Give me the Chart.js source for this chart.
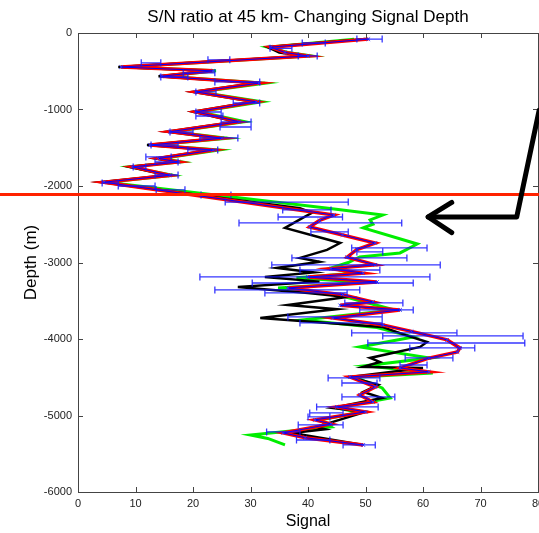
<!DOCTYPE html>
<html lang="en">
<head>
<meta charset="UTF-8">
<title>S/N ratio at 45 km- Changing Signal Depth</title>
<script src="https://cdn.jsdelivr.net/npm/chart.js"></script>
<style>
  html, body { margin: 0; padding: 0; background: #fff; }
  .chart-container { position: relative; width: 539px; height: 533px; }
</style>
</head>
<body>
<div class="chart-container"><canvas id="snChart"></canvas></div>
<script>
// upper part: all runs follow nearly the same zigzag
const upperDepth = [-80, -185, -255, -300, -445, -495, -565, -655, -770, -900, -1030, -1160, -1290, -1375, -1465, -1530, -1640, -1685, -1750, -1860, -1950];
const redUpper   = [50.5, 33.5, 36, 40, 7.5, 23.5, 14.5, 31.5, 20.5, 31, 20.5, 28, 16, 25, 12.5, 23.5, 14, 17.5, 9.5, 16, 4.5];
const greenUpper = [48, 33, 36.5, 40.5, 8, 24, 15, 32.5, 21, 32, 21, 29, 16.5, 26, 13, 24.5, 14.5, 18, 9, 16.5, 5];
const blackUpper = [50, 33, 35, 39.5, 7, 23, 14, 31, 20, 30.5, 20, 27.5, 15.5, 24.5, 12, 23, 13.5, 17, 9, 15.5, 4];

// lower part, each run separately
const redLowerDepth = [-2380, -2450, -2535, -2640, -2745, -2830, -2930, -3030, -3080, -3140, -3190, -3255, -3333, -3420, -3516, -3560, -3620, -3725, -3816, -3900, -4012, -4117, -4169, -4250, -4378, -4430, -4496, -4627, -4731, -4823, -4888, -4953, -5058, -5110, -5228, -5290, -5385];
const redLower      = [44.5, 42, 40.3, 46, 51.7, 48.5, 46.8, 51.7, 44, 49.6, 40, 52, 36.5, 46, 51.3, 45.6, 56, 44.3, 53, 58, 64.2, 66.4, 66, 61, 56, 61, 47.3, 51.7, 49, 51.3, 45, 50, 41.2, 44, 35.7, 39.5, 49.6];

const blackLowerDepth = [-2290, -2350, -2420, -2548, -2745, -2836, -2940, -2990, -3071, -3130, -3189, -3250, -3320, -3400, -3450, -3555, -3610, -3725, -3842, -3950, -4039, -4104, -4248, -4300, -4365, -4378, -4496, -4600, -4692, -4770, -4901, -4953, -5149, -5180, -5228, -5385];
const blackLower      = [38.6, 40.7, 39, 36, 45.6, 43.3, 38.6, 42, 34.6, 41, 32.5, 42, 27.8, 40, 46.8, 36.5, 45, 31.7, 52.9, 57, 60.7, 59.5, 50.8, 52.5, 49.6, 60, 47.3, 52.2, 49.6, 52.9, 44.3, 50, 41.5, 43, 37.2, 49.6];

const greenLowerDepth = [-2290, -2380, -2444, -2500, -2548, -2758, -2875, -2928, -3000, -3071, -3140, -3200, -3260, -3333, -3420, -3520, -3620, -3751, -3850, -3973, -4104, -4248, -4350, -4444, -4500, -4640, -4770, -4900, -4960, -5060, -5150, -5254, -5300, -5385];
const greenLower      = [43.5, 53, 50.8, 51.3, 49.6, 59, 56, 49, 47, 44, 48, 38, 50, 34.8, 45, 50, 55, 39, 52, 58.3, 49, 61.2, 50, 61.7, 48, 52.9, 54.3, 45, 49, 42, 44, 30, 33, 36];

// horizontal error bars (blue)
const errDepth = [-80, -130, -200, -300, -350, -390, -520, -575, -640, -770, -915, -1033, -1085, -1163, -1229, -1294, -1372, -1464, -1529, -1620, -1686, -1751, -1856, -1960, -2000, -2050, -2118, -2210, -2313, -2405, -2483, -2600, -2810, -2862, -2940, -3032, -3098, -3189, -3268, -3359, -3398, -3529, -3620, -3712, -3790, -3921, -3960, -4052, -4117, -4248, -4340, -4509, -4575, -4757, -4888, -4966, -5019, -5123, -5215, -5320, -5385];
const errLow   = [48.5, 39, 33.4, 38.3, 22.6, 11, 18.3, 14.4, 23.8, 20.5, 27, 20.5, 20.5, 24.9, 24.7, 16, 21.2, 12.7, 19.1, 11.8, 13.4, 9.6, 13.4, 4.2, 7, 13.6, 21.4, 25.6, 35.6, 34.8, 28, 40.5, 47.6, 48.5, 37.2, 33.7, 38.6, 21.2, 30.3, 23.8, 32.5, 46.4, 49, 36.5, 38.6, 47.6, 53, 50.4, 57.7, 56.9, 56, 43.5, 45.9, 45.9, 41.5, 40.3, 40, 38.3, 32.8, 38, 46.1];
const errHigh  = [52.9, 43, 37.2, 41.6, 26.4, 14.4, 23.8, 19.1, 31.6, 24, 31.6, 24.9, 25.2, 30.1, 30.1, 20, 27.8, 17.4, 24.3, 16.2, 17.4, 11.8, 17.4, 7, 13.4, 18.6, 26.6, 47, 44, 46, 56.3, 47, 60.7, 53, 57.2, 63, 52.5, 61.2, 58.3, 49, 46.8, 56.5, 58.3, 52.9, 52.9, 65.9, 77.4, 77.7, 69, 65.2, 60.7, 52.5, 52, 55.1, 52.2, 46.1, 43.8, 46.1, 38.6, 43.8, 51.7];

const xTicks = [0, 10, 20, 30, 40, 50, 60, 70, 80];
const yTicks = [-6000, -5000, -4000, -3000, -2000, -1000, 0];

// annotations drawn on top of the figure
const markerDepth = -2110;
const arrowX = [80.2, 76.3, 60.9];
const arrowY = [-1010, -2405, -2405];
const headX = [65, 60.9, 65];
const headY = [-2215, -2405, -2610];

function pts(depths, signals) {
    return depths.map((d, i) => ({ x: signals[i], y: d }));
}

const redData = pts(upperDepth, redUpper).concat(pts(redLowerDepth, redLower));
const greenData = pts(upperDepth, greenUpper).concat(pts(greenLowerDepth, greenLower));
const blackData = pts(upperDepth, blackUpper).concat(pts(blackLowerDepth, blackLower));

const font = 'Arial, "Liberation Sans", Helvetica, sans-serif';

const framePlugin = {
    id: 'frame',
    afterDatasetsDraw(chart) {
        const { ctx, chartArea: a, scales: { x, y } } = chart;
        // error bars
        ctx.save();
        ctx.strokeStyle = 'rgba(20, 20, 255, 0.85)';
        ctx.lineWidth = 1.3;
        ctx.beginPath();
        errDepth.forEach((d, i) => {
            const py = y.getPixelForValue(d);
            const x1 = x.getPixelForValue(errLow[i]);
            const x2 = x.getPixelForValue(errHigh[i]);
            ctx.moveTo(x1, py); ctx.lineTo(x2, py);
            ctx.moveTo(x1, py - 3.5); ctx.lineTo(x1, py + 3.5);
            ctx.moveTo(x2, py - 3.5); ctx.lineTo(x2, py + 3.5);
        });
        ctx.stroke();
        ctx.restore();

        // box and inward ticks
        ctx.save();
        ctx.strokeStyle = '#444';
        ctx.lineWidth = 1;
        ctx.strokeRect(Math.round(a.left) + 0.5, Math.round(a.top) + 0.5, Math.round(a.right - a.left), Math.round(a.bottom - a.top));
        ctx.beginPath();
        xTicks.forEach(v => {
            const px = Math.round(x.getPixelForValue(v)) + 0.5;
            ctx.moveTo(px, a.bottom); ctx.lineTo(px, a.bottom - 5);
            ctx.moveTo(px, a.top); ctx.lineTo(px, a.top + 5);
        });
        yTicks.forEach(v => {
            const py = Math.round(y.getPixelForValue(v)) + 0.5;
            ctx.moveTo(a.left, py); ctx.lineTo(a.left + 5, py);
            ctx.moveTo(a.right, py); ctx.lineTo(a.right - 5, py);
        });
        ctx.stroke();

        // x tick labels (drawn here so the last one may run off the canvas edge)
        ctx.fillStyle = '#222';
        ctx.font = '11px ' + font;
        ctx.textAlign = 'center';
        ctx.textBaseline = 'top';
        xTicks.forEach(v => {
            ctx.fillText(String(v), x.getPixelForValue(v), a.bottom + 6);
        });
        ctx.restore();
    },
    afterDraw(chart) {
        const { ctx, scales: { x, y } } = chart;
        ctx.save();
        // red marker line across the whole figure
        const ly = y.getPixelForValue(markerDepth);
        ctx.strokeStyle = '#ff2200';
        ctx.lineWidth = 3;
        ctx.beginPath();
        ctx.moveTo(0, ly); ctx.lineTo(chart.width, ly);
        ctx.stroke();

        // black arrow
        ctx.strokeStyle = '#000';
        ctx.lineWidth = 5;
        ctx.lineJoin = 'round';
        ctx.lineCap = 'round';
        ctx.beginPath();
        arrowX.forEach((v, i) => {
            const px = x.getPixelForValue(v), py = y.getPixelForValue(arrowY[i]);
            if (i === 0) ctx.moveTo(px, py); else ctx.lineTo(px, py);
        });
        ctx.stroke();
        ctx.beginPath();
        headX.forEach((v, i) => {
            const px = x.getPixelForValue(v), py = y.getPixelForValue(headY[i]);
            if (i === 0) ctx.moveTo(px, py); else ctx.lineTo(px, py);
        });
        ctx.stroke();
        ctx.restore();
    }
};

new Chart(document.getElementById('snChart').getContext('2d'), {
    type: 'scatter',
    data: {
        datasets: [
            {
                label: 'mean',
                data: redData,
                showLine: true,
                borderColor: '#0000ff',
                borderWidth: 1,
                pointStyle: 'crossRot',
                pointRadius: 2.5,
                pointBorderColor: '#3030ff',
                pointBorderWidth: 1,
                order: 0
            },
            {
                label: 'red',
                data: redData,
                showLine: true,
                borderColor: '#ff0000',
                borderWidth: 3.5,
                pointRadius: 0,
                order: 1
            },
            {
                label: 'black',
                data: blackData,
                showLine: true,
                borderColor: '#000000',
                borderWidth: 2.5,
                pointRadius: 0,
                order: 2
            },
            {
                label: 'green',
                data: greenData,
                showLine: true,
                borderColor: '#00ee00',
                borderWidth: 3,
                pointRadius: 0,
                order: 3
            }
        ]
    },
    options: {
        responsive: true,
        maintainAspectRatio: false,
        animation: false,
        events: [],
        layout: { autoPadding: false, padding: { right: 1 } },
        plugins: {
            legend: { display: false },
            tooltip: { enabled: false },
            title: {
                display: true,
                fullSize: false,
                text: 'S/N ratio at 45 km- Changing Signal Depth',
                color: '#000',
                font: { family: font, size: 17, weight: 'normal', lineHeight: 1.2 },
                padding: { top: 7, bottom: 5.6 }
            }
        },
        scales: {
            x: {
                type: 'linear',
                min: 0,
                max: 80,
                grid: { display: false, drawTicks: false, tickLength: 0 },
                border: { display: false },
                ticks: { display: false, stepSize: 10 },
                title: {
                    display: true,
                    text: 'Signal',
                    color: '#000',
                    font: { family: font, size: 16, lineHeight: 1.2 },
                    padding: { top: 0, bottom: 1.5 }
                },
                afterFit(scale) {
                    scale.height = 41;
                }
            },
            y: {
                type: 'linear',
                min: -6000,
                max: 0,
                grid: { display: false, drawTicks: false, tickLength: 0 },
                border: { display: false },
                ticks: {
                    stepSize: 1000,
                    padding: 6,
                    color: '#222',
                    font: { family: font, size: 11 },
                    callback: v => String(v)
                },
                title: {
                    display: true,
                    text: 'Depth (m)',
                    color: '#000',
                    font: { family: font, size: 17, lineHeight: 1.2 },
                    padding: { top: 21, bottom: 0 }
                },
                afterFit(scale) {
                    scale.width = 78;
                }
            }
        }
    },
    plugins: [framePlugin]
});
</script>
</body>
</html>
